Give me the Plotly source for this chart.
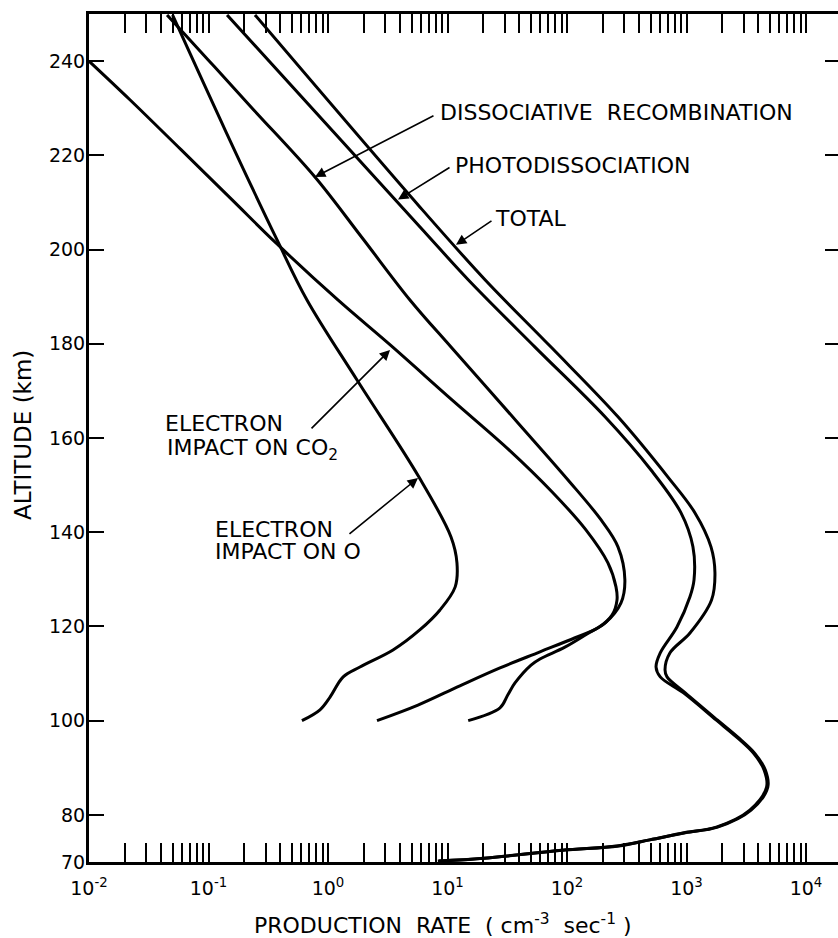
import plotly.graph_objects as go

# ---------------- data (altitude km, production rate cm^-3 s^-1) ----------------
alt_total = [249.8, 209.0, 193.6, 179.3, 164.5, 151.7, 144.1, 136.9, 131.4, 125.6, 118.6,
             114.4, 110.8, 109.3, 105.9, 100.1, 96.5, 93.1, 89.5, 85.9, 81.0, 77.4, 76.2,
             74.7, 73.4, 72.5, 70.8, 70.2]
rate_total = [0.245, 5.89, 20.6, 73.5, 267, 700, 1178, 1603, 1730, 1620, 1069,
              728, 661, 687, 977, 1820, 2690, 3715, 4570, 4790, 3470, 1820, 977,
              495, 269, 92, 20.4, 8.5]

alt_photo = [249.8, 204.8, 193.6, 179.3, 164.5, 153.2, 144.1, 136.9, 129.9, 126.3, 119.9,
             114.4, 111.4, 109.3, 105.9, 100.1, 96.5, 93.1, 89.5, 85.9, 81.0, 77.4, 76.2,
             74.7, 73.4, 72.5, 70.8, 70.2]
rate_photo = [0.143, 5.89, 14.9, 54.0, 208, 505, 900, 1132, 1156, 1069, 832,
              603, 556, 603, 944, 1778, 2630, 3630, 4467, 4677, 3388, 1778, 955,
              490, 263, 91, 20, 8.3]

alt_dr = [249.8, 240.3, 229.7, 215.4, 202.5, 189.3, 179.3, 163.2, 151.1, 142.6, 136.9,
          129.9, 125.0, 120.7, 118.8, 115.6, 113.1, 111.8, 108.0, 105.5, 102.7, 100.0]
rate_dr = [0.045, 0.099, 0.238, 0.778, 1.93, 4.85, 10.7, 38.9, 102, 193, 267,
           305, 283, 208, 156, 96, 59.4, 50, 36.7, 32, 27.5, 14.9]

alt_eco2 = [240.0, 231.8, 221.2, 210.6, 201.4, 189.3, 179.6, 168.1, 157.5, 148.6, 140.5,
            133.5, 128.4, 125.6, 122.4, 119.7, 117.6, 114.6, 111.2, 107.4, 103.3, 100.0]
rate_eco2 = [0.0100, 0.0220, 0.0589, 0.157, 0.367, 1.21, 3.37, 10.9, 32.7, 74.8, 144,
             220, 257, 262, 238, 182, 117, 59.4, 27.5, 12.7, 5.66, 2.57]

alt_eo = [249.8, 225.0, 202.1, 189.3, 172.3, 151.7, 139.0, 133.5, 128.4, 123.5, 119.3,
          115.0, 111.4, 109.3, 105.0, 102.3, 100.0]
rate_eo = [0.050, 0.140, 0.374, 0.667, 1.75, 5.77, 10.7, 12.0, 11.6, 8.65, 5.89,
           3.50, 1.85, 1.34, 1.04, 0.857, 0.605]

series = [
    ("Total", alt_total, rate_total),
    ("Photodissociation", alt_photo, rate_photo),
    ("Dissociative recombination", alt_dr, rate_dr),
    ("Electron impact on CO2", alt_eco2, rate_eco2),
    ("Electron impact on O", alt_eo, rate_eo),
]

major_ticks = [1e-2, 1e-1, 1e0, 1e1, 1e2, 1e3, 1e4]
major_text = ["10<sup>-2</sup>", "10<sup>-1</sup>", "10<sup>0</sup>", "10<sup>1</sup>",
              "10<sup>2</sup>", "10<sup>3</sup>", "10<sup>4</sup>"]
minor_ticks = [m * 10.0 ** k for k in range(-2, 5) for m in range(2, 10) if m * 10.0 ** k < 1.8e4]
alt_ticks = [70, 80, 100, 120, 140, 160, 180, 200, 220, 240]
alt_text = ["70", "80", "100", "120", "140", "160", "180", "200", "220", "240"]

# ---------------- figure ----------------
W, H = 838, 938
L, R, T, B = 89, 0, 14, 76
PW, PH = W - L - R, H - T - B
XR = [-2.0, -2.0 + PW / 119.5]
FONT = "DejaVu Sans"
NB = "\u00a0"

fig = go.Figure()
for name, a, r in series:
    fig.add_trace(go.Scatter(x=r, y=a, mode="lines", name=name, showlegend=False,
                             hoverinfo="skip",
                             line=dict(color="black", width=3, shape="spline", smoothing=1.0)))
fig.add_trace(go.Scatter(x=[None], y=[None], yaxis="y2", showlegend=False, hoverinfo="skip"))


def px(xp):
    return (xp - L) / PW


def py(yp):
    return (H - B - yp) / PH


annotations = []
# label texts
for txt, lx, cy in [("DISSOCIATIVE" + NB + " RECOMBINATION", 438, 113),
                    ("PHOTODISSOCIATION", 453, 166),
                    ("TOTAL", 493, 218),
                    ("ELECTRON", 163, 423.5),
                    ("IMPACT ON CO<sub>2</sub>", 165, 450),
                    ("ELECTRON", 213, 529),
                    ("IMPACT ON O", 213, 551.5)]:
    annotations.append(dict(text=txt, xref="paper", yref="paper", x=px(lx), y=py(cy),
                            xanchor="left", yanchor="middle", showarrow=False,
                            font=dict(family=FONT, size=22, color="black")))

# arrows: tip (log10 rate, altitude), tail offset in pixels
for tx, ty, ax, ay in [(-0.109, 215.4, 120, -62),
                       (0.586, 210.6, 53, -33),
                       (1.071, 201.0, 37, -25),
                       (0.519, 178.7, -80, 80),
                       (0.753, 151.5, -70, 57)]:
    annotations.append(dict(text="", xref="x", yref="y", x=tx, y=ty, ax=ax, ay=ay,
                            showarrow=True, arrowhead=2, arrowsize=1.3, arrowwidth=1.6,
                            arrowcolor="black", standoff=0))

# axis titles
annotations.append(dict(text="PRODUCTION" + NB + " RATE" + NB + " (" + NB + "cm<sup>-3</sup>"
                             + NB + " sec<sup>-1</sup>" + NB + ")",
                        xref="paper", yref="paper", x=px(443), y=py(924),
                        xanchor="center", yanchor="middle", showarrow=False,
                        font=dict(family=FONT, size=22, color="black")))
annotations.append(dict(text="ALTITUDE (km)", xref="paper", yref="paper",
                        x=px(23), y=py(435), xanchor="center", yanchor="middle",
                        textangle=-90, showarrow=False,
                        font=dict(family=FONT, size=23, color="black")))

fig.update_layout(
    width=W, height=H,
    margin=dict(l=L, r=R, t=T, b=B, pad=0),
    paper_bgcolor="white", plot_bgcolor="white",
    showlegend=False,
    annotations=annotations,
    xaxis=dict(type="log", range=XR, showline=True, linecolor="black", linewidth=3,
               mirror="allticks", ticks="inside", ticklen=19, tickwidth=2, tickcolor="black",
               tickmode="array", tickvals=major_ticks, ticktext=major_text,
               showgrid=False, zeroline=False, ticklabelstandoff=7,
               tickfont=dict(family=FONT, size=19, color="black"),
               minor=dict(tickmode="array", tickvals=minor_ticks, ticks="inside",
                          ticklen=9, tickwidth=2, tickcolor="black", showgrid=False)),
    yaxis=dict(range=[70, 250], showline=True, linecolor="black", linewidth=3,
               ticks="inside", ticklen=15, tickwidth=2, tickcolor="black",
               tickmode="array", tickvals=alt_ticks, ticktext=alt_text,
               showgrid=False, zeroline=False, ticklabelstandoff=-3,
               tickfont=dict(family=FONT, size=19, color="black")),
    yaxis2=dict(range=[70, 250], overlaying="y", side="right", anchor="x",
                showline=False, ticks="inside", ticklen=13, tickwidth=2, tickcolor="black",
                tickmode="array", tickvals=alt_ticks[1:], showticklabels=False,
                showgrid=False, zeroline=False),
)

fig.write_html("out.html",
               config={"displayModeBar": False, "staticPlot": True},
               post_script="document.body.style.margin='0';"
                           "document.body.style.overflow='hidden';")
